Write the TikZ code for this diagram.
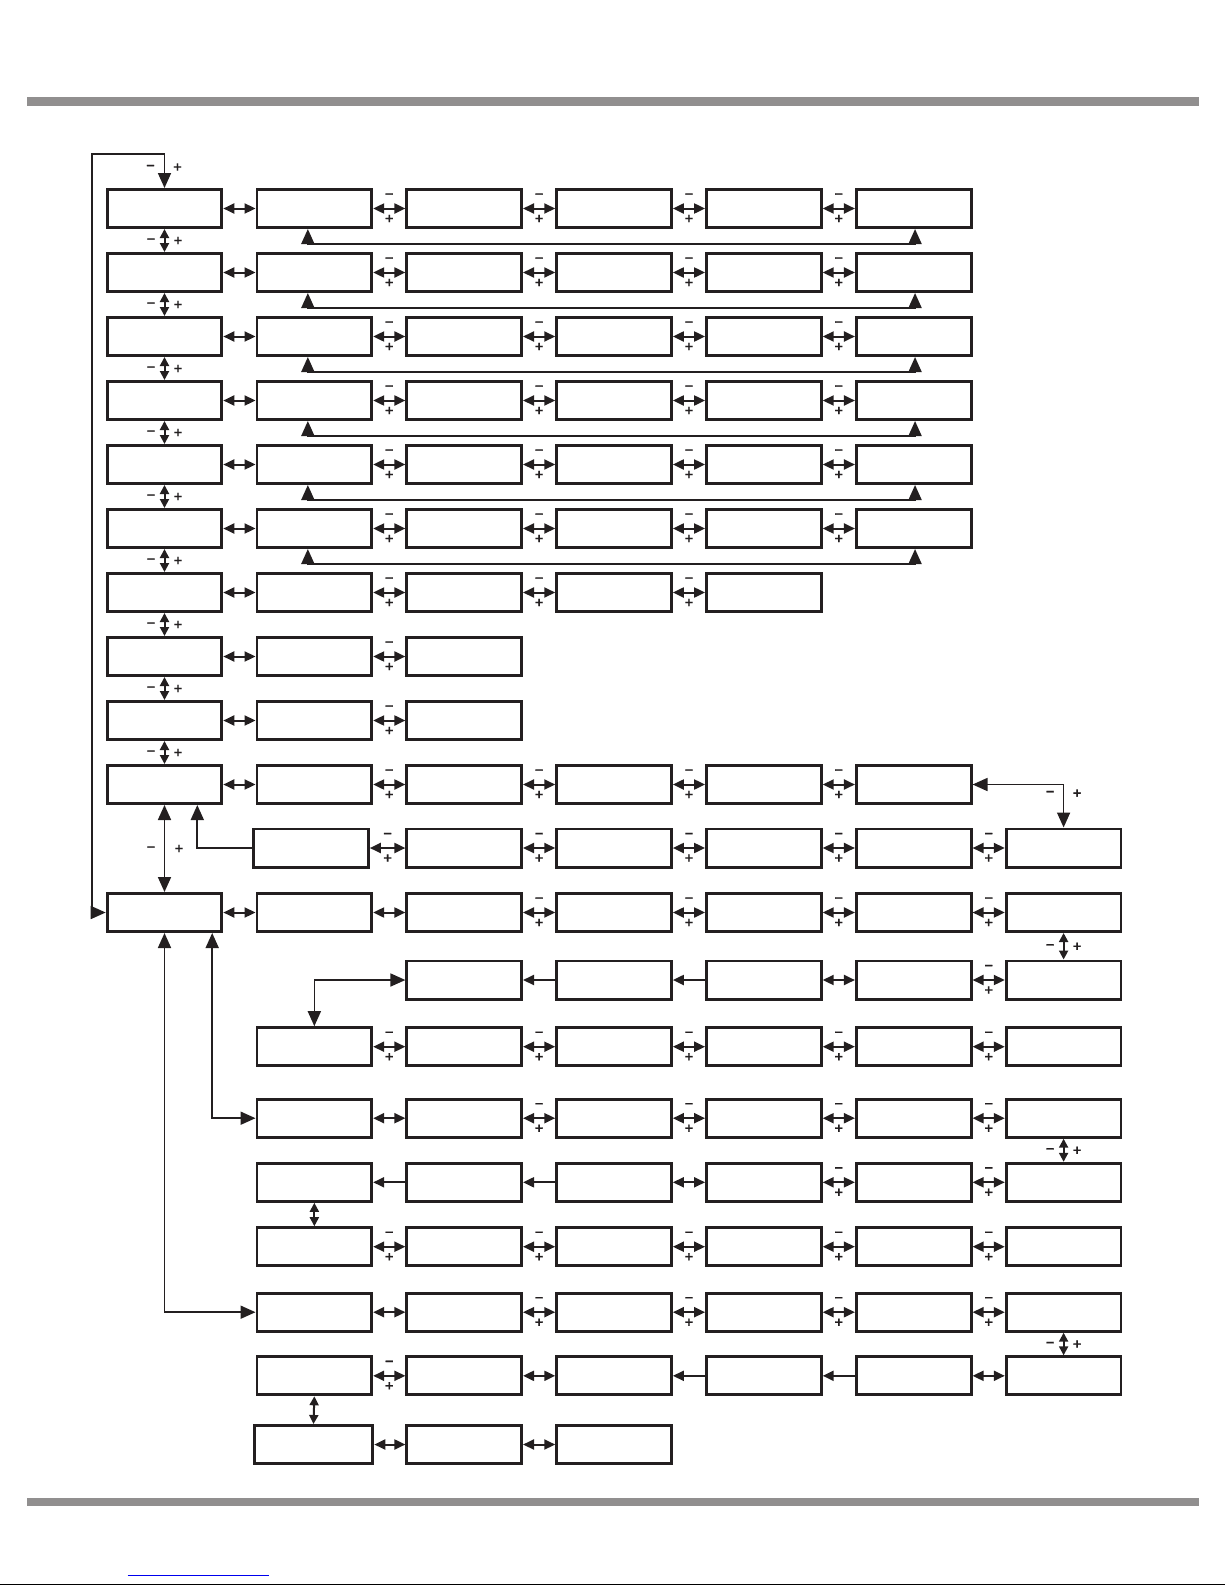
\documentclass[tikz,border=0pt]{standalone}
\usepackage{fontspec}
\setmainfont{DejaVu Sans}
\usetikzlibrary{arrows.meta}
\definecolor{ink}{RGB}{35, 31, 32}
\definecolor{rule}{RGB}{145, 143, 143}
\definecolor{link}{RGB}{0, 0, 238}
\tikzset{
  screen/.style={draw=ink, line width=2.9pt, minimum width=114.7pt,
    minimum height=38.1pt, inner sep=0pt},
  duo/.style={ink, line width=2pt,
    {Triangle[length=11pt, width=10pt]}-{Triangle[length=11pt, width=10pt]}},
  back/.style={ink, line width=2pt, -{Triangle[length=11pt, width=10pt]}},
  duov/.style={ink, line width=2pt,
    {Triangle[length=9pt, width=9pt]}-{Triangle[length=9pt, width=9pt]}},
  long/.style={ink, line width=1.7pt,
    {Triangle[length=15pt, width=13pt]}-{Triangle[length=15pt, width=13pt]}},
  lone/.style={ink, line width=1.7pt, -{Triangle[length=15pt, width=13pt]}},
  sgn/.style={text=ink, inner sep=0pt,
    font=\fontsize{11.5}{11.5}\selectfont\bfseries\addfontfeatures{FakeBold=1.2}}
}
\newcommand{\pmlink}[2]{%
  \draw[duo] (#1.east) -- node[sgn, yshift=13pt] {−} node[sgn, yshift=-10pt] {+} (#2.west);
}
\newcommand{\pmvert}[2]{%
  \draw[duov] (#1.south) -- node[sgn, xshift=-13.5pt] {−} node[sgn, xshift=13.5pt] {+} (#2.north);
}
\begin{document}
\begin{tikzpicture}[x=1pt, y=-1pt]
  \useasboundingbox (0, 0) rectangle (1225, 1585);
  \fill[rule] (26.5, 97) rectangle (1199, 105.5);
  \fill[rule] (26.5, 1497.5) rectangle (1199, 1506);
  \draw[link, line width=1pt] (127.5, 1575) -- (268.5, 1575);
  \fill[black] (0, 1583.6) rectangle (1225, 1585);

  % boxes
  \foreach \r/\y/\a/\b in {1/208.5/1/6, 2/272.5/1/6, 3/336.5/1/6, 4/400.5/1/6,
      5/464.5/1/6, 6/528.5/1/6, 7/592.5/1/5, 8/656.5/1/3, 9/720.5/1/3,
      10/784.5/1/6, 11/848/3/7, 12/912.5/1/7, 13/980/3/7, 14/1046.7/2/7,
      15/1118.2/2/7, 16/1182.3/2/7, 17/1246.7/2/7, 18/1312.2/2/7,
      19/1375.8/2/7, 20/1444.5/3/4} {
    \foreach \c in {\a, ..., \b} {
      \node[screen] (r\r-\c) at ({164.5 + 149.85 * (\c - 1)}, \y) {};
    }
  }
  \node[screen] (r11-2) at (311, 848) {};
  \node[screen, minimum width=118.7pt] (r20-2) at (313.5, 1444.5) {};

  % plain links
  \foreach \r/\c in {1/1, 2/1, 3/1, 4/1, 5/1, 6/1, 7/1, 8/1, 9/1, 10/1,
      12/1, 12/2, 13/5, 15/2, 16/4, 18/2, 19/3, 19/6, 20/2, 20/3} {
    \pgfmathtruncatemacro{\nc}{\c + 1}
    \draw[duo] (r\r-\c.east) -- (r\r-\nc.west);
  }

  % minus / plus links
  \foreach \r/\a/\b in {1/2/5, 2/2/5, 3/2/5, 4/2/5, 5/2/5, 6/2/5, 7/2/4, 8/2/2,
      9/2/2, 10/2/5, 11/2/6, 12/3/6, 13/6/6, 14/2/6, 15/3/6, 16/5/6,
      17/2/6, 18/3/6, 19/2/2} {
    \foreach \c in {\a, ..., \b} {
      \pgfmathtruncatemacro{\nc}{\c + 1}
      \pmlink{r\r-\c}{r\r-\nc}
    }
  }

  % one way
  \foreach \r/\c in {13/3, 13/4, 16/2, 16/3, 19/4, 19/5} {
    \pgfmathtruncatemacro{\nc}{\c + 1}
    \draw[back] (r\r-\nc.west) -- (r\r-\c.east);
  }

  % up / down
  \foreach \r in {1, ..., 9} {
    \pgfmathtruncatemacro{\nr}{\r + 1}
    \pmvert{r\r-1}{r\nr-1}
  }
  \pmvert{r12-7}{r13-7}
  \pmvert{r15-7}{r16-7}
  \pmvert{r18-7}{r19-7}
  \draw[duov] (r16-2.south) -- (r17-2.north);
  \draw[duov] (r19-2.south) -- (r20-2.north);

  % back to the first screen of a row
  \foreach \r in {1, ..., 6} {
    \draw[long] ([xshift=-6.5pt]r\r-2.south) -- ++(0, 15) -| ([xshift=1.3pt]r\r-6.south);
  }

  % long ones
  \coordinate (top) at (91.7, 154);
  \draw[long] (r1-1.north) -- node[sgn, xshift=-14pt, yshift=4pt] {−}
    node[sgn, xshift=13pt, yshift=4pt] {+} (r1-1.north |- top) -- (top) |- (r12-1.west);
  \draw[long] (r10-6.east) -| node[sgn, pos=0.6, xshift=-13.5pt] {−}
    node[sgn, pos=0.6, xshift=13.5pt] {+} (r11-7.north);
  \draw[lone] (r11-2.west) -| ([xshift=32.8pt]r10-1.south);
  \draw[long] (r10-1.south) -- node[sgn, xshift=-13.5pt] {−}
    node[sgn, xshift=14.5pt] {+} (r12-1.north);
  \draw[long] (r13-3.west) -| (r14-2.north);
  \draw[long] ([xshift=47.7pt]r12-1.south) |- (r15-2.west);
  \draw[long] (r12-1.south) |- (r18-2.west);
\end{tikzpicture}
\end{document}
